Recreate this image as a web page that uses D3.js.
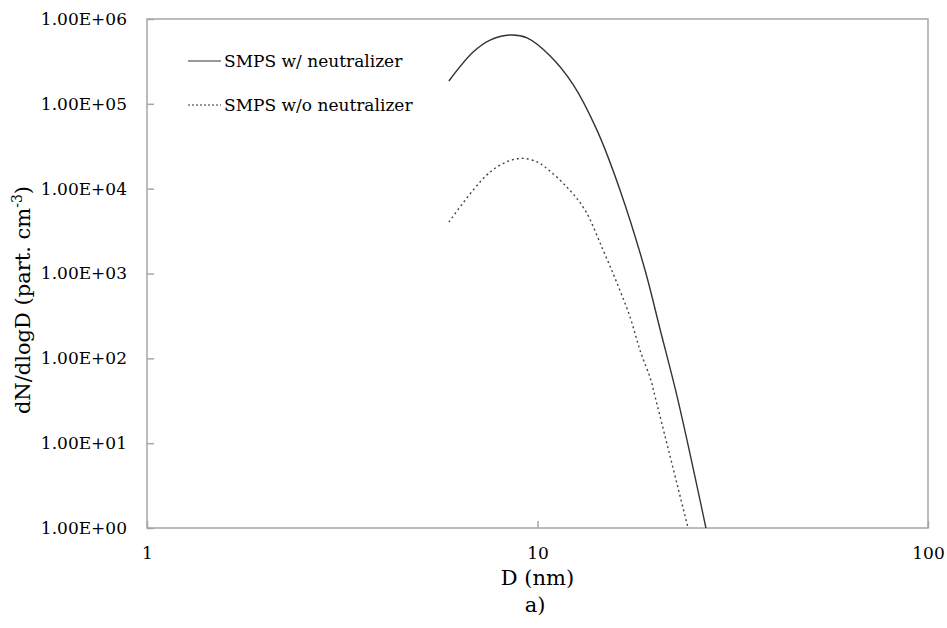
<!DOCTYPE html>
<html>
<head>
<meta charset="utf-8">
<script src="https://cdn.jsdelivr.net/npm/d3@7"></script>
<style>
body { margin: 0; background: #fff; }
</style>
</head>
<body>
<svg width="947" height="628"></svg>
<script>
// particle size (nm) and dN/dlogD
var withD = [5.93, 6.84, 7.56, 8.5, 9.4, 10.76, 12.33, 14.2, 16.27, 18.85, 20.6, 22.9, 27.0]
var withN = [1.86e5, 4.08e5, 5.65e5, 6.47e5, 6.0e5, 3.7e5, 1.7e5, 4.9e4, 9.6e3, 1.1e3, 2.2e2, 3.2e1, 1]

var withoutD = [5.93, 6.84, 7.56, 8.3, 9.11, 9.97, 10.45, 11.9, 13.23, 14.72, 15.98, 17.26, 18.3, 19.53, 19.9, 24.3]
var withoutN = [4.04e3, 9.6e3, 1.57e4, 2.05e4, 2.28e4, 2.07e4, 1.8e4, 1.04e4, 5.6e3, 1.89e3, 7.7e2, 3.06e2, 1.25e2, 5.5e1, 3.9e1, 1]

var yTicks = [1, 10, 100, 1000, 1e4, 1e5, 1e6]
var yTickLabels = ["1.00E+00", "1.00E+01", "1.00E+02", "1.00E+03", "1.00E+04", "1.00E+05", "1.00E+06"]
var xTicks = [1, 10, 100]

var seriesNames = ["SMPS w/ neutralizer", "SMPS w/o neutralizer"]

var serif = "DejaVu Serif"

var margins = {top: 19, right: 19, bottom: 100, left: 147}
var width = 928 - margins.left
var height = 528 - margins.top

var svg = d3.select("svg")

var xScale = d3.scaleLog()
    .domain([1, 100])
    .range([0, width])

var yScale = d3.scaleLog()
    .domain([1, 1e6])
    .range([height, 0])

var graph = svg.append("g")
    .attr("transform", "translate(" + margins.left + "," + margins.top + ")")

// plot frame
graph.append("rect")
    .attr("width", width)
    .attr("height", height)
    .attr("fill", "none")
    .attr("stroke", "#a6a6a6")
    .attr("stroke-width", 1.5)

var yAxis = d3.axisLeft(yScale)
    .tickValues(yTicks)
    .tickSize(-7)
    .tickPadding(20)
    .tickFormat(function(d, i) { return yTickLabels[i] })

var xAxis = d3.axisBottom(xScale)
    .tickValues(xTicks)
    .tickSize(-7)
    .tickPadding(19)
    .tickFormat(d3.format("d"))

graph.append("g").attr("class", "axis").call(yAxis)
graph.append("g").attr("class", "axis")
    .attr("transform", "translate(0," + height + ")")
    .call(xAxis)

graph.selectAll(".axis").attr("font-family", serif)
graph.selectAll(".axis .domain").remove()
graph.selectAll(".axis line").attr("stroke", "#a6a6a6").attr("stroke-width", 1.5)
graph.selectAll(".axis text")
    .attr("font-family", serif)
    .attr("font-size", 17)
    .attr("fill", "#000")

var line = d3.line()
    .x(function(d) { return xScale(d[0]) })
    .y(function(d) { return yScale(d[1]) })
    .curve(d3.curveCatmullRom.alpha(0.5))

graph.append("path")
    .datum(d3.zip(withD, withN))
    .attr("d", line)
    .attr("fill", "none")
    .attr("stroke", "#333")
    .attr("stroke-width", 1.4)

graph.append("path")
    .datum(d3.zip(withoutD, withoutN))
    .attr("d", line)
    .attr("fill", "none")
    .attr("stroke", "#444")
    .attr("stroke-width", 1.4)
    .attr("stroke-dasharray", "2,3")

// legend
var legend = svg.append("g")
var legendY = [61, 105]
legend.selectAll("line")
    .data(seriesNames)
    .enter()
    .append("line")
    .attr("x1", 188).attr("x2", 221)
    .attr("y1", function(d, i) { return legendY[i] })
    .attr("y2", function(d, i) { return legendY[i] })
    .attr("stroke", "#333")
    .attr("stroke-width", 1.2)
    .attr("stroke-dasharray", function(d, i) { return i == 1 ? "2,2" : null })

legend.selectAll("text")
    .data(seriesNames)
    .enter()
    .append("text")
    .attr("x", 224)
    .attr("y", function(d, i) { return legendY[i] + 6 })
    .attr("font-family", serif)
    .attr("font-size", 17)
    .text(function(d) { return d })

// axis titles
svg.append("text")
    .attr("x", margins.left + width / 2)
    .attr("y", 585)
    .attr("text-anchor", "middle")
    .attr("font-family", serif)
    .attr("font-size", 21)
    .text("D (nm)")

svg.append("text")
    .attr("x", 535)
    .attr("y", 612)
    .attr("text-anchor", "middle")
    .attr("font-family", serif)
    .attr("font-size", 21)
    .text("a)")

var yTitle = svg.append("text")
    .attr("transform", "translate(30,300) rotate(-90)")
    .attr("text-anchor", "middle")
    .attr("font-family", serif)
    .attr("font-size", 21)
yTitle.append("tspan").text("dN/dlogD (part. cm")
yTitle.append("tspan").attr("dy", -8).attr("font-size", 14).text("-3")
yTitle.append("tspan").attr("dy", 8).text(")")
</script>
</body>
</html>
